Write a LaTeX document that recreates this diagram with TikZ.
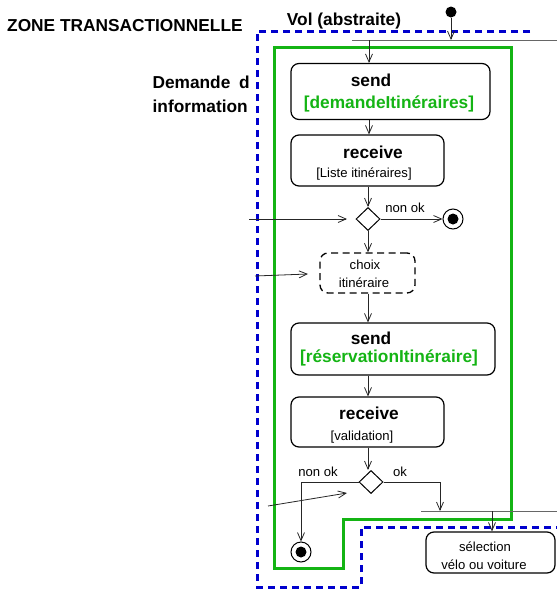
\documentclass[tikz,border=0pt]{standalone}
\usepackage{fontspec}
\setmainfont{Liberation Sans}
\usetikzlibrary{arrows.meta,shapes.geometric}
\definecolor{zgreen}{RGB}{20,180,20}
\definecolor{zblue}{RGB}{0,0,205}
\tikzset{
  arr/.style={draw=black!85,line width=0.8pt,-{Straight Barb[length=8pt,width=7pt,line width=0.8pt]}},
  flow/.style={draw=black!85,line width=0.8pt},
  actbox/.style={draw=black,line width=1.2pt,rounded corners=8pt},
  dashbox/.style={draw=black,line width=1.3pt,rounded corners=8pt,dash pattern=on 7pt off 4.5pt},
  bigb/.style={font=\fontsize{17.3}{20}\selectfont\bfseries,inner sep=0pt},
  bigg/.style={font=\fontsize{17.3}{20}\selectfont\bfseries,text=zgreen,inner sep=0pt},
  small/.style={font=\fontsize{13.1}{15}\selectfont,inner sep=0pt},
  dec/.style={diamond,draw=black,line width=1pt,minimum width=24pt,minimum height=23pt,inner sep=0pt},
  finalo/.style={circle,draw=black,line width=1pt,minimum size=20pt,inner sep=0pt,fill=white},
  barline/.style={draw=black!60,line width=1pt},
  greenzone/.style={draw=zgreen,line width=3pt},
  bluezone/.style={draw=zblue,line width=3pt,dash pattern=on 7pt off 5pt},
}
\begin{document}
\begin{tikzpicture}[x=1pt,y=-1pt]
\useasboundingbox (0,0) rectangle (557,592);

% zones
\draw[greenzone] (274,47) -- (511,47) -- (511,519) -- (343,519) -- (343,568) -- (274,568) -- cycle;
\draw[bluezone] (530,31) -- (257,31) -- (257,587) -- (361,587) -- (361,527) -- (557,527);

% labels
\node[bigb,anchor=west] (zt) at (7,26) {ZONE TRANSACTIONNELLE};
\node[bigb] (vol) at (344,21) {Vol (abstraite)};
\node[bigb,anchor=east] (dem1) at (250,82) {Demande\hspace{4pt} d};
\node[bigb,anchor=east] (dem2) at (248,106) {information};

% column
\coordinate (col) at (369,0);

% fork bars
\coordinate (b1l) at (352,40);
\coordinate (b1r) at (557,40);
\draw[barline] (b1l) -- (b1r);
\coordinate (b2l) at (421,511);
\coordinate (b2r) at (557,511);
\draw[barline] (b2l) -- (b2r);

% initial node
\node[circle,fill=black,minimum size=11pt,inner sep=0pt] (init) at (451,12) {};
\coordinate (b1a) at (451,40);
\draw[arr] (init) -- (b1a);

% send 1
\node[actbox,minimum width=199pt,minimum height=56pt,inner sep=0pt] (s1) at (390.5,91.5) {};
\node[bigb] (s1a) at (371,80) {send};
\node[bigg] (s1b) at (389,104) {[demandeItinéraires]};

% receive 1
\node[actbox,minimum width=153pt,minimum height=51pt,inner sep=0pt] (r1) at (367.5,160.5) {};
\node[bigb] (r1a) at (373,152) {receive};
\node[small] (r1b) at (364,174) {[Liste itinéraires]};

% decision 1
\node[dec] (d1) at (368,219) {};
\node[finalo] (f1) at (453,219) {};
\fill (f1) circle (5.5pt);
\node[small] (no1) at (405,208) {non ok};

% choix
\node[dashbox,minimum width=95pt,minimum height=40pt,inner sep=0pt] (c1) at (367.5,273) {};
\node[small] (c1a) at (365,265) {choix};
\node[small] (c1b) at (364,283) {itinéraire};

% send 2
\node[actbox,minimum width=204pt,minimum height=52pt,inner sep=0pt] (s2) at (393,349) {};
\node[bigb] (s2a) at (371,338) {send};
\node[bigg] (s2b) at (389,358) {[réservationItinéraire]};

% receive 2
\node[actbox,minimum width=153pt,minimum height=50pt,inner sep=0pt] (r2) at (367.5,422) {};
\node[bigb] (r2a) at (369,413) {receive};
\node[small] (r2b) at (362,437) {[validation]};

% decision 2
\node[dec] (d2) at (371,482) {};
\node[small] (no2) at (318,472) {non ok};
\node[small] (ok2) at (400,472) {ok};
\node[finalo] (f2) at (301,552) {};
\fill (f2) circle (5.5pt);

% selection
\node[actbox,minimum width=129pt,minimum height=41pt,inner sep=0pt] (sel) at (490.5,552.5) {};
\node[small] (sela) at (485,547) {sélection};
\node[small] (selb) at (484,565) {vélo ou voiture};

% flows
\draw[arr] (b1l -| col) -- (s1.north -| col);
\draw[arr] (s1.south -| col) -- (r1.north -| col);
\draw[arr] (r1.south -| d1) -- (d1.north);
\draw[arr] (d1.east) -- (f1.west);
\draw[arr] (d1.south) -- (c1.north -| d1);
\draw[arr] (c1.south -| d1) -- (s2.north -| d1);
\draw[arr] (s2.south -| d1) -- (r2.north -| d1);
\draw[arr] (r2.south -| d1) -- (d2.north -| d1);
\draw[arr] (d2.west) -| (f2.north);
\coordinate (b2a) at (440,511);
\draw[arr] (d2.east) -| (b2a);
\coordinate (b2s) at (492,511);
\draw[arr] (b2s) -- (sel.north -| b2s);

% incoming arrows from outside
\coordinate (in1) at (249,219);
\coordinate (in1e) at (347,219);
\draw[arr] (in1) -- (in1e);
\coordinate (in2) at (255,276);
\coordinate (in2e) at (308,274);
\draw[arr] (in2) -- (in2e);
\coordinate (in3) at (268,506);
\coordinate (in3e) at (347,493);
\draw[arr] (in3) -- (in3e);
\end{tikzpicture}
\end{document}
